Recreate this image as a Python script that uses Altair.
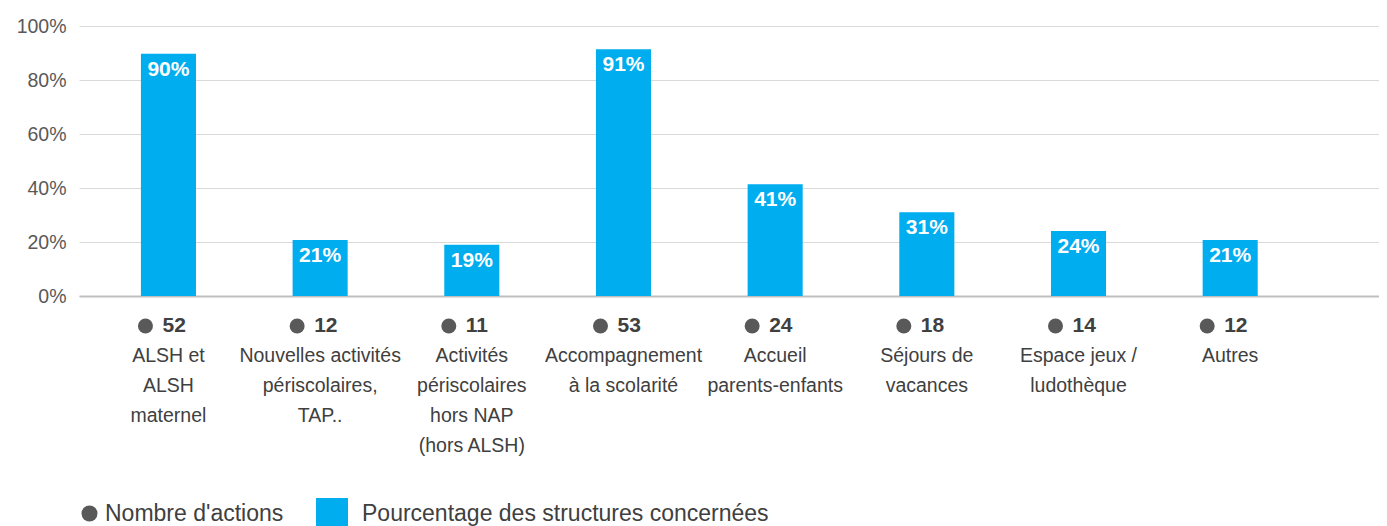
import altair as alt
import pandas as pd

categories = [
    "ALSH et|ALSH|maternel",
    "Nouvelles activités|périscolaires,|TAP..",
    "Activités|périscolaires|hors NAP|(hors ALSH)",
    "Accompagnement|à la scolarité",
    "Accueil|parents-enfants",
    "Séjours de|vacances",
    "Espace jeux /|ludothèque",
    "Autres",
]
pct_values = [0.897, 0.207, 0.190, 0.914, 0.414, 0.310, 0.241, 0.207]
action_counts = [52, 12, 11, 53, 24, 18, 14, 12]
series_count = "Nombre d'actions"
series_pct = "Pourcentage des structures concernées"
y_ticks = [0, 0.2, 0.4, 0.6, 0.8, 1.0]

df = pd.DataFrame({
    "cat": categories,
    "pct": pct_values,
    "count": action_counts,
    "s1": [series_count] * len(categories),
    "s2": [series_pct] * len(categories),
})

FONT = "Liberation Sans"
BLUE = "#00ADEF"
DOT = "#595959"
TXT = "#404040"

x_enc = alt.X(
    "cat:N",
    sort=categories,
    scale=alt.Scale(paddingInner=0.637, paddingOuter=0.604, align=0.338),
    axis=alt.Axis(
        title=None,
        labelAngle=0,
        labelExpr="split(datum.label, '|')",
        labelFontSize=19.5,
        labelColor=TXT,
        labelLineHeight=30,
        labelPadding=50,
        labelLimit=400,
        ticks=False,
        domain=True,
        domainColor="#BFBFBF",
        domainWidth=2,
        grid=False,
    ),
)

y_enc = alt.Y(
    "pct:Q",
    scale=alt.Scale(domain=[0, 1], nice=False),
    axis=alt.Axis(
        title=None,
        values=y_ticks,
        format=".0%",
        labelFontSize=19.5,
        labelColor=DOT,
        labelPadding=13,
        ticks=False,
        domain=False,
        grid=True,
        gridColor="#D9D9D9",
        gridWidth=1,
    ),
)

base = alt.Chart(df)

bars = base.mark_bar().encode(
    x=x_enc,
    y=y_enc,
    color=alt.Color(
        "s2:N",
        scale=alt.Scale(range=[BLUE]),
        legend=alt.Legend(
            title=None,
            orient="none",
            legendX=237,
            legendY=472,
            padding=0,
            symbolType="square",
            symbolSize=1024,
            symbolStrokeWidth=0,
            labelFontSize=23,
            labelColor=TXT,
            labelLimit=700,
            labelOffset=14,
        ),
    ),
)

bar_labels = base.mark_text(
    baseline="top", dy=5, color="white", fontWeight="bold", fontSize=21
).encode(
    x=x_enc,
    y=alt.Y("pct:Q"),
    text=alt.Text("pct:Q", format=".0%"),
)

dots = base.mark_point(filled=True, opacity=1, size=225, xOffset=-23).encode(
    x=x_enc,
    y=alt.value(300),
    color=alt.Color(
        "s1:N",
        scale=alt.Scale(range=[DOT]),
        legend=alt.Legend(
            title=None,
            orient="none",
            legendX=-1,
            legendY=476,
            padding=0,
            symbolType="circle",
            symbolSize=256,
            symbolStrokeWidth=0,
            labelFontSize=23,
            labelColor=TXT,
            labelLimit=400,
            labelOffset=4,
        ),
    ),
)

counts = base.mark_text(
    align="left", baseline="middle", xOffset=-6, fontWeight="bold", fontSize=21, color=TXT
).encode(
    x=x_enc,
    y=alt.value(300),
    text=alt.Text("count:Q"),
)

chart = (
    alt.layer(bars, bar_labels, dots, counts)
    .resolve_scale(color="independent")
    .properties(
        width=1300,
        height=270,
        autosize=alt.AutoSizeParams(type="none"),
        padding={"left": 71, "top": 18, "right": 0, "bottom": 230},
    )
    .configure(font=FONT)
    .configure_view(stroke=None)
)

chart.save("out.html", embed_options={"renderer": "svg", "actions": False})
